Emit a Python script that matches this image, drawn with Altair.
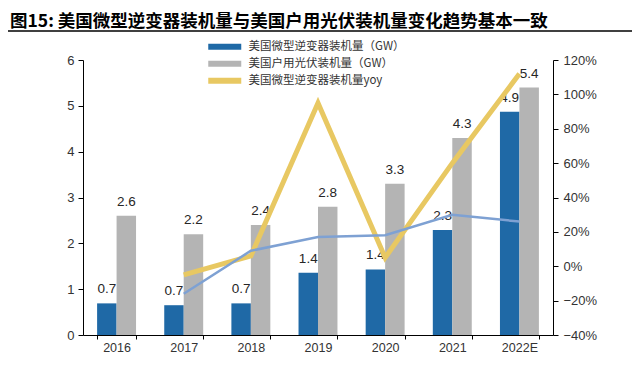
import altair as alt
import pandas as pd

# ---- data ----
years = ["2016", "2017", "2018", "2019", "2020", "2021", "2022E"]
micro_gw = [0.69, 0.65, 0.69, 1.36, 1.43, 2.29, 4.87]
resid_gw = [2.60, 2.20, 2.40, 2.80, 3.30, 4.30, 5.40]
micro_yoy = [None, -0.05, 0.06, 0.95, 0.05, 0.60, 1.12]
resid_yoy = [None, -0.16, 0.09, 0.17, 0.18, 0.30, 0.26]

s_micro = "美国微型逆变器装机量（GW）"
s_resid = "美国户用光伏装机量（GW）"
s_myoy = "美国微型逆变器装机量yoy"
s_ryoy = "美国户用光伏装机量yoy"
series_order = [s_micro, s_resid, s_myoy, s_ryoy]
series_colors = ["#1F69A6", "#B4B4B4", "#E8C862", "#7EA1D3"]

title_text = "图15:  美国微型逆变器装机量与美国户用光伏装机量变化趋势基本一致"

# ---- tables ----
bars = pd.DataFrame(
    [{"year": y, "series": s_micro, "value": v} for y, v in zip(years, micro_gw)]
    + [{"year": y, "series": s_resid, "value": v} for y, v in zip(years, resid_gw)]
)
yoy_m = pd.DataFrame([{"year": y, "series": s_myoy, "yoy": v}
                      for y, v in zip(years, micro_yoy) if v is not None])
yoy_r = pd.DataFrame([{"year": y, "series": s_ryoy, "yoy": v}
                      for y, v in zip(years, resid_yoy) if v is not None])
title_df = pd.DataFrame({"t": [title_text]})

color_scale = alt.Scale(domain=series_order, range=series_colors)

legend = alt.Legend(
    values=[s_micro, s_resid, s_myoy], title=None, orient="none",
    legendX=136, legendY=-19, padding=0,
    symbolType="M-3,-0.55H3V0.55H-3Z", symbolSize=121, symbolStrokeWidth=0,
    labelOffset=18, labelFont="Noto Sans CJK SC", labelFontSize=11.5,
    labelColor="#333", rowPadding=4, labelLimit=400,
)

x_enc = alt.X(
    "year:N", sort=years, title=None,
    scale=alt.Scale(paddingInner=0.42, paddingOuter=0.21),
    axis=alt.Axis(labelAngle=0, tickBand="extent", tickSize=4, labelFontSize=12.5,
                  labelPadding=2, domainColor="#000", tickColor="#000"),
)
xoff = alt.XOffset("series:N", sort=[s_micro, s_resid],
                   scale=alt.Scale(domain=[s_micro, s_resid], paddingInner=0))

y_left = alt.Y(
    "value:Q", title=None,
    scale=alt.Scale(domain=[0, 6], nice=False),
    axis=alt.Axis(orient="left", values=[0, 1, 2, 3, 4, 5, 6], grid=False,
                  tickSize=5, labelPadding=4, labelFontSize=13,
                  domainColor="#000", tickColor="#000"),
)

bar_layer = alt.Chart(bars).mark_bar().encode(
    x=x_enc, xOffset=xoff, y=y_left,
    color=alt.Color("series:N", scale=color_scale, legend=legend),
)
label_layer = alt.Chart(bars).mark_text(
    dy=-14, fontSize=13.5, color="#262626", font="Liberation Sans"
).encode(
    x=x_enc, xOffset=xoff, y=y_left,
    text=alt.Text("value:Q", format=".1f"),
)
title_layer = alt.Chart(title_df).mark_text(
    align="left", baseline="alphabetic", fontSize=17.5, fontWeight="bold",
    font="Noto Sans CJK SC", color="#000"
).encode(x=alt.value(-73), y=alt.value(-33), text="t:N")
title_rule = alt.Chart(title_df).mark_rule(color="#000", strokeWidth=1.5).encode(
    x=alt.value(-75), x2=alt.value(549), y=alt.value(-29)
)

left = alt.layer(bar_layer, label_layer, title_layer, title_rule)

y_right = alt.Y(
    "yoy:Q", title=None,
    scale=alt.Scale(domain=[-0.4, 1.2], nice=False),
    axis=alt.Axis(orient="right", format=".0%",
                  values=[-0.4, -0.2, 0, 0.2, 0.4, 0.6, 0.8, 1.0, 1.2],
                  grid=False, tickSize=5, labelPadding=5, labelFontSize=13,
                  domainColor="#000", tickColor="#000"),
)

line_m = alt.Chart(yoy_m).mark_line(strokeWidth=5).encode(
    x=x_enc, y=y_right,
    color=alt.Color("series:N", scale=color_scale, legend=legend),
)
line_r = alt.Chart(yoy_r).mark_line(strokeWidth=2.5).encode(
    x=x_enc, y=y_right,
    color=alt.Color("series:N", scale=color_scale, legend=legend),
)

right = alt.layer(line_m, line_r)

chart = alt.layer(left, right).resolve_scale(y="independent").properties(
    width=470, height=275,
    autosize=alt.AutoSizeParams(type="none"),
    padding={"left": 75, "top": 52, "right": 79, "bottom": 22},
).configure_view(stroke=None).configure_axis(
    labelFont="Liberation Sans", labelColor="#333", domainWidth=1
)

chart.save("out.html", embed_options={"renderer": "svg", "actions": False})
